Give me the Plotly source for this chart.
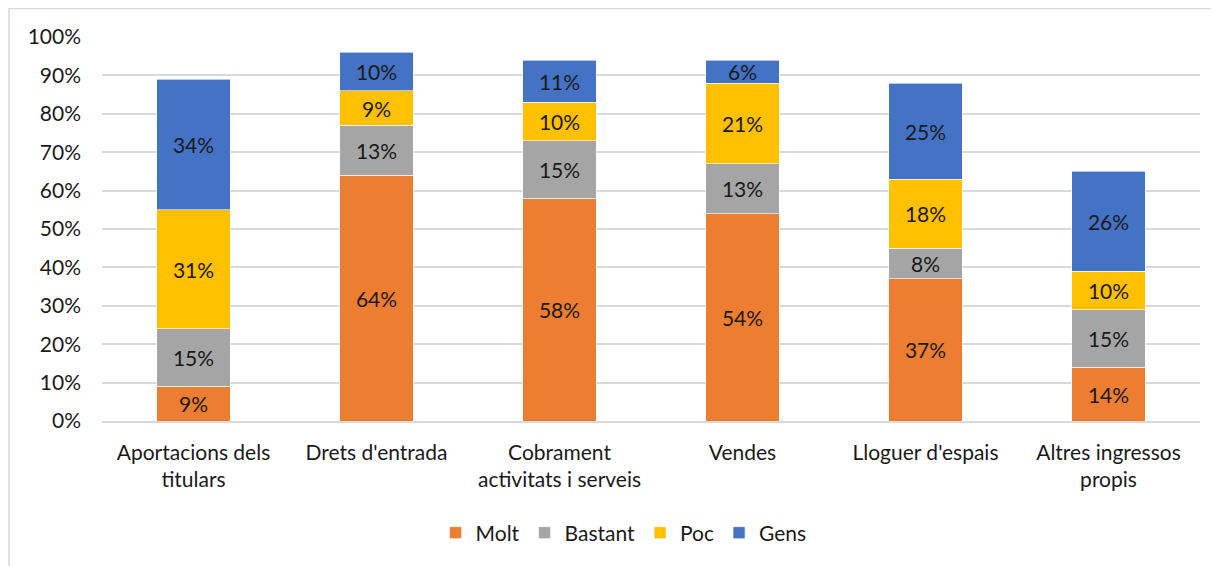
import plotly.graph_objects as go

categories = ["Aportacions dels titulars", "Drets d'entrada", "Cobrament activitats i serveis",
              "Vendes", "Lloguer d'espais", "Altres ingressos propis"]
tick_labels = ["Aportacions dels<br>titulars", "Drets d'entrada", "Cobrament<br>activitats i serveis",
               "Vendes", "Lloguer d'espais", "Altres ingressos<br>propis"]
molt = [9, 64, 58, 54, 37, 14]
bastant = [15, 13, 15, 13, 8, 15]
poc = [31, 9, 10, 21, 18, 10]
gens = [34, 10, 11, 6, 25, 26]

series = [("Molt", molt, "#ED7D31"), ("Bastant", bastant, "#A5A5A5"),
          ("Poc", poc, "#FFC000"), ("Gens", gens, "#4472C4")]

FONT = "Lato"
FS = 21
W, H = 1211, 558
L, R, T, B = 94, 19, 29, 145
PW, PH = W - L - R, H - T - B

fig = go.Figure()
for name, vals, col in series:
    fig.add_trace(go.Bar(
        x=categories, y=vals, name=name, marker_color=col,
        marker_line=dict(color="white", width=0.6),
        text=[f"{v}%" for v in vals], textposition="inside", insidetextanchor="middle",
        textangle=0, textfont=dict(color="#1a1a1a", size=FS, family=FONT),
        constraintext="none", cliponaxis=False,
        hoverinfo="skip", width=0.4,
    ))

fig.update_layout(
    barmode="stack", width=W, height=H,
    margin=dict(l=L, r=R, t=T, b=B, autoexpand=False),
    paper_bgcolor="white", plot_bgcolor="white",
    font=dict(family=FONT, size=FS, color="#1a1a1a"),
    legend=dict(orientation="h", x=0.475, xanchor="center", yref="container",
                y=1 - (533 - 8) / H, yanchor="middle",
                font=dict(size=FS), traceorder="normal", itemwidth=30),
    xaxis=dict(tickmode="array", tickvals=categories, ticktext=tick_labels,
               showline=True, linecolor="#D9D9D9", linewidth=1.5, ticks="",
               tickfont=dict(size=FS), automargin=False, ticklabelstandoff=12),
    yaxis=dict(range=[0, 100], dtick=10, ticksuffix="%", showgrid=True,
               gridcolor="#D9D9D9", gridwidth=1.5, zeroline=False, ticks="",
               tickfont=dict(size=FS), automargin=False, ticklabelstandoff=20),
)
fig.add_shape(type="rect", xref="paper", yref="paper",
              x0=(1 - L) / PW, x1=1.05, y0=-0.5, y1=1 + (T - 0.5) / PH,
              line=dict(color="#D9D9D9", width=1.5), fillcolor="rgba(0,0,0,0)", layer="below")
fig.write_html("out.html")
